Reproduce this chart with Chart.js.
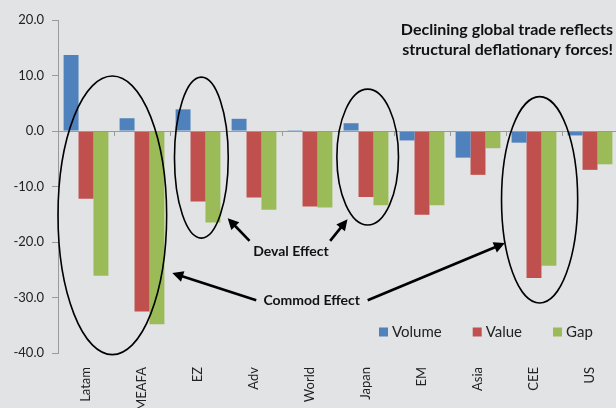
<!DOCTYPE html>
<html>
<head>
<meta charset="utf-8">
<script src="https://cdn.jsdelivr.net/npm/chart.js@4"></script>
<style>
  html, body { margin: 0; padding: 0; background: #e2e3e5; overflow: hidden; }
  #wrap { width: 620px; height: 408px; position: relative; }
</style>
</head>
<body>
<div id="wrap"><canvas id="tradeChart"></canvas></div>
<script>
// data
const regions = ['Latam', 'MEAFA', 'EZ', 'Adv', 'World', 'Japan', 'EM', 'Asia', 'CEE', 'US'];
const volume = [13.7, 2.3, 3.9, 2.2, 0.15, 1.4, -1.7, -4.8, -2.1, -0.8];
const value  = [-12.2, -32.5, -12.7, -12.0, -13.6, -11.9, -15.1, -7.9, -26.5, -7.0];
const gap    = [-26.1, -34.8, -16.5, -14.2, -13.8, -13.4, -13.4, -3.1, -24.3, -6.0];
const yTicks = { min: -40, max: 20, step: 10 };

const FONT = 'Lato, "Open Sans", sans-serif';

// call-outs, in category index / value units
const ellipses = [
    { cx: 0.47, cy: -15.2, rx: 0.97, ry: 25.1 },
    { cx: 2.06, cy: -4.8, rx: 0.48, ry: 14.5 },
    { cx: 5.03, cy: -4.7, rx: 0.55, ry: 12.25 },
    { cx: 8.1, cy: -12.4, rx: 0.68, ry: 18.6 }
];
const arrows = [
    { from: [2.92, -19.8], to: [2.53, -15.7] },
    { from: [4.36, -19.8], to: [4.67, -15.9] },
    { from: [3.04, -30.5], to: [1.54, -25.6] },
    { from: [5.03, -30.5], to: [7.48, -20.2] }
];
const notes = [
    { text: 'Deval Effect', x: 3.66, y: -21.7 },
    { text: 'Commod Effect', x: 4.03, y: -30.5 }
];
const title = ['Declining global trade reflects', 'structural deflationary forces!'];

const overlay = {
    id: 'overlay',
    afterDatasetsDraw(chart) {
        const { ctx, scales: { x, y } } = chart;
        const step = x.getPixelForValue(1) - x.getPixelForValue(0);
        const px = v => x.getPixelForValue(0) + v * step;
        const py = v => y.getPixelForValue(v);
        const zero = py(0);

        ctx.save();
        // zero line and category tick marks
        ctx.strokeStyle = '#9a9a9a';
        ctx.lineWidth = 1;
        ctx.beginPath();
        ctx.moveTo(chart.chartArea.left, zero + 0.5);
        ctx.lineTo(chart.chartArea.right, zero + 0.5);
        for (let i = 0; i <= regions.length; i++) {
            const bx = Math.round(px(i - 0.5)) + 0.5;
            ctx.moveTo(bx, zero);
            ctx.lineTo(bx, zero + 5);
        }
        ctx.stroke();

        // ellipses
        ctx.strokeStyle = '#000';
        ctx.lineWidth = 1.6;
        ellipses.forEach(e => {
            ctx.beginPath();
            ctx.ellipse(px(e.cx), py(e.cy), e.rx * step, Math.abs(py(e.ry) - zero), 0, 0, Math.PI * 2);
            ctx.stroke();
        });

        // arrows
        ctx.lineWidth = 2.6;
        ctx.fillStyle = '#000';
        arrows.forEach(a => {
            const x1 = px(a.from[0]), y1 = py(a.from[1]);
            const x2 = px(a.to[0]), y2 = py(a.to[1]);
            const ang = Math.atan2(y2 - y1, x2 - x1);
            const hl = 11, hw = 5.5;
            ctx.beginPath();
            ctx.moveTo(x1, y1);
            ctx.lineTo(x2 - Math.cos(ang) * hl * 0.8, y2 - Math.sin(ang) * hl * 0.8);
            ctx.stroke();
            ctx.beginPath();
            ctx.moveTo(x2, y2);
            ctx.lineTo(x2 - Math.cos(ang) * hl - Math.sin(ang) * hw, y2 - Math.sin(ang) * hl + Math.cos(ang) * hw);
            ctx.lineTo(x2 - Math.cos(ang) * hl + Math.sin(ang) * hw, y2 - Math.sin(ang) * hl - Math.cos(ang) * hw);
            ctx.closePath();
            ctx.fill();
        });

        // labels
        ctx.font = 'bold 14px ' + FONT;
        ctx.textAlign = 'center';
        ctx.textBaseline = 'middle';
        ctx.fillStyle = '#111';
        notes.forEach(n => ctx.fillText(n.text, px(n.x), py(n.y)));

        ctx.font = 'bold 16px ' + FONT;
        ctx.textAlign = 'right';
        ctx.fillText(title[0], 613, 30);
        ctx.fillText(title[1], 613, 50);

        // legend
        ctx.font = '15px ' + FONT;
        ctx.textAlign = 'left';
        let lx = 379;
        const ly = 332;
        chart.data.datasets.forEach(ds => {
            ctx.fillStyle = ds.backgroundColor;
            ctx.fillRect(lx, ly - 4.5, 9, 9);
            ctx.fillStyle = '#222';
            ctx.fillText(ds.label, lx + 13, ly);
            lx += 13 + ctx.measureText(ds.label).width + 31;
        });
        ctx.restore();
    }
};

new Chart(document.getElementById('tradeChart'), {
    type: 'bar',
    data: {
        labels: regions,
        datasets: [
            { label: 'Volume', data: volume, backgroundColor: '#4f81bd' },
            { label: 'Value', data: value, backgroundColor: '#c0504d' },
            { label: 'Gap', data: gap, backgroundColor: '#9bbb59' }
        ]
    },
    options: {
        responsive: true,
        maintainAspectRatio: false,
        animation: false,
        layout: { padding: { top: 20, right: 2, left: 0, bottom: 0 } },
        datasets: { bar: { categoryPercentage: 0.8, barPercentage: 1.0 } },
        plugins: {
            legend: { display: false },
            tooltip: { enabled: false }
        },
        scales: {
            x: {
                grid: { display: false },
                border: { display: false },
                ticks: {
                    color: '#222',
                    font: { family: FONT, size: 13 },
                    minRotation: 90,
                    maxRotation: 90,
                    padding: 6
                },
                afterFit: s => { s.height = 55; }
            },
            y: {
                min: yTicks.min,
                max: yTicks.max,
                ticks: {
                    stepSize: yTicks.step,
                    color: '#222',
                    font: { family: FONT, size: 13 },
                    padding: 8,
                    callback: v => v.toFixed(1)
                },
                grid: {
                    color: 'transparent',
                    tickColor: '#9a9a9a',
                    tickLength: 6
                },
                border: { color: '#9a9a9a' },
                afterFit: s => { s.width = 58; }
            }
        }
    },
    plugins: [overlay]
});
</script>
</body>
</html>
